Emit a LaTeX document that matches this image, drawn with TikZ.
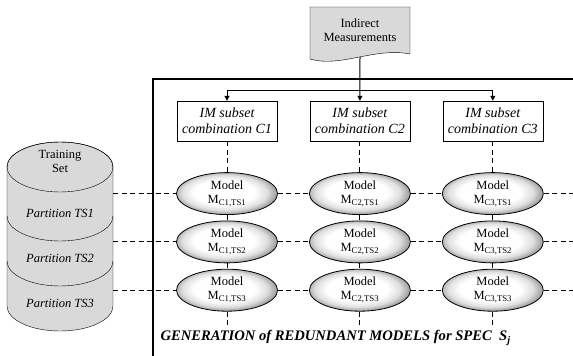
\documentclass[tikz,border=0pt]{standalone}
\usepackage{fontspec}
\setmainfont{Liberation Serif}
\usepackage{tikz}
\usetikzlibrary{positioning, arrows.meta, shapes, calc}

\pgfdeclareradialshading{rimshade}{\pgfpoint{-2bp}{2bp}}{color(0bp)=(white); color(15bp)=(white); color(21bp)=(gray!25); color(25bp)=(gray!70); color(50bp)=(gray!70)}

\tikzset{
    imbox/.style={rectangle, draw, thin, fill=white, minimum width=100pt, minimum height=40pt, inner sep=1pt, align=center, font=\fontsize{14}{16}\selectfont\itshape},
    model/.style={ellipse, draw, thick, shading=rimshade, minimum width=101pt, minimum height=42pt, inner sep=0pt, align=center, font=\fontsize{12.5}{14}\selectfont},
    grid line/.style={dashed, dash pattern=on 5pt off 3.5pt, line width=0.9pt},
    feed/.style={-{Triangle[length=5pt, width=5pt]}, line width=1pt}
}

\begin{document}
\begin{tikzpicture}[x=1pt, y=1pt, node distance=32.5pt]
        \useasboundingbox (0,0) rectangle (573,-356);

        % Indirect measurements (document)
        \filldraw[fill=gray!30, thin] (310,-7) -- (410,-7) -- (410,-54)
            .. controls (375,-47) and (340,-68) .. (310,-59) -- cycle;
        \node[font=\fontsize{12.5}{14}\selectfont, align=center] (im) at (360,-30) {Indirect\\Measurements};
        \coordinate (imout) at (360,-57);

        % Training set (cylinder)
        \filldraw[fill=gray!30, thin] (7,-167) -- (7,-306) arc[start angle=180, end angle=360, x radius=53, y radius=25]
            -- (113,-167) arc[start angle=0, end angle=180, x radius=53, y radius=25] -- cycle;
        \draw[thin] (60,-167) ellipse [x radius=53, y radius=25];
        \draw[thin] (7,-216) arc[start angle=180, end angle=360, x radius=53, y radius=25];
        \draw[thin] (7,-261) arc[start angle=180, end angle=360, x radius=53, y radius=25];
        \node[font=\fontsize{12.5}{14}\selectfont, align=center] (ts) at (60,-161) {Training\\Set};
        \node[font=\fontsize{12.5}{14}\selectfont\itshape] (ts1) at (60,-213) {Partition TS1};
        \node[font=\fontsize{12.5}{14}\selectfont\itshape] (ts2) at (60,-258) {Partition TS2};
        \node[font=\fontsize{12.5}{14}\selectfont\itshape] (ts3) at (60,-303) {Partition TS3};
        \coordinate (cylR) at (113,0);
        \coordinate (endR) at (573,0);
        \coordinate (endB) at (0,-325);

        % IM subset combinations
        \node[imbox] (c1) at (227,-121) {IM subset\\combination C1};
        \node[imbox, right=of c1] (c2) {IM subset\\combination C2};
        \node[imbox, right=of c2] (c3) {IM subset\\combination C3};

        % Redundant models
        \node[model, below=31pt of c1] (m11) {Model\\M\textsubscript{C1,TS1}};
        \node[model, below=31pt of c2] (m12) {Model\\M\textsubscript{C2,TS1}};
        \node[model, below=31pt of c3] (m13) {Model\\M\textsubscript{C3,TS1}};
        \node[model, below=5.5pt of m11] (m21) {Model\\M\textsubscript{C1,TS2}};
        \node[model, below=5.5pt of m12] (m22) {Model\\M\textsubscript{C2,TS2}};
        \node[model, below=5.5pt of m13] (m23) {Model\\M\textsubscript{C3,TS2}};
        \node[model, below=5.5pt of m21] (m31) {Model\\M\textsubscript{C1,TS3}};
        \node[model, below=5.5pt of m22] (m32) {Model\\M\textsubscript{C2,TS3}};
        \node[model, below=5.5pt of m23] (m33) {Model\\M\textsubscript{C3,TS3}};

        % Dashed grid
        \draw[grid line] (cylR |- m11) -- (m11) -- (m12) -- (m13) -- (endR |- m13);
        \draw[grid line] (cylR |- m21) -- (m21) -- (m22) -- (m23) -- (endR |- m23);
        \draw[grid line] (cylR |- m31) -- (m31) -- (m32) -- (m33) -- (endR |- m33);
        \draw[grid line] (c1) -- (m11) -- (m21) -- (m31) -- (m31 |- endB);
        \draw[grid line] (c2) -- (m12) -- (m22) -- (m32) -- (m32 |- endB);
        \draw[grid line] (c3) -- (m13) -- (m23) -- (m33) -- (m33 |- endB);

        % Frame
        \draw[line width=2.2pt] (153,-356) |- (573,-79);
        \node[anchor=west, font=\fontsize{14.6}{17}\selectfont\bfseries\itshape] (title) at (157,-338)
            {GENERATION of REDUNDANT MODELS for SPEC\ \ S\textsubscript{j}};

        % Feeding the combinations
        \coordinate (split) at (360,-90);
        \draw[feed] (imout) -- (c2.north);
        \draw[feed] (split) -| (c1.north);
        \draw[feed] (split) -| (c3.north);
    \end{tikzpicture}
\end{document}
